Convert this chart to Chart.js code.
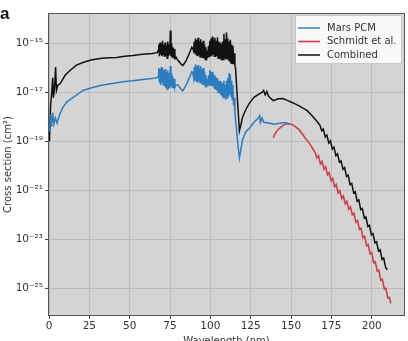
<!DOCTYPE html>
<html>
<head>
<meta charset="utf-8">
<script src="https://cdn.jsdelivr.net/npm/chart.js@4/dist/chart.umd.min.js"></script>
<style>
  body { margin: 0; background: #fff; }
  #wrap { width: 408px; height: 341px; }
</style>
</head>
<body>
<div id="wrap"><canvas id="myChart" width="408" height="341"></canvas></div>
<script>
// wavelength in nm, cross section in cm^2
var pcmWavelength = [0.3, 1.0, 1.6, 2.3, 3.0, 4.0, 5.0, 6.5, 8.7, 11, 15, 21, 26, 31.6, 37, 42, 47, 52, 58, 64, 67,
  67.6, 68.0, 68.4, 68.8, 69.2, 69.6, 70.0, 70.4, 70.8, 71.2, 71.6, 72.0, 72.4, 72.8, 73.2, 73.6, 74.0, 74.4, 74.8, 75.2,
  75.6, 76.0, 76.4, 76.8, 77.2, 77.6, 78.0, 78.4, 80, 82, 83, 85, 87, 88.5,
  89.2, 89.6, 90.0, 90.4, 90.8, 91.2, 91.6, 92.0, 92.4, 92.8, 93.2, 93.6, 94.0, 94.4, 94.8, 95.2, 95.6, 96.0, 96.4, 96.8,
  97.2, 97.6, 98.0, 98.4, 98.8, 99.2, 99.6, 100.0, 100.4, 100.8, 101.2, 101.6, 102.0, 102.4, 102.8, 103.2, 103.6, 104.0,
  104.4, 104.8, 105.2, 105.6, 106.0, 106.4, 106.8, 107.2, 107.6, 108.0, 108.4, 108.8, 109.2, 109.6, 110.0, 110.4, 110.8,
  111.2, 111.6, 112.0, 112.4, 112.8, 113.2, 113.6, 114.0, 114.4, 114.8, 115.2, 115.6, 116.2, 117, 118, 119, 120, 122,
  124.5, 127, 128, 129.5, 130.5, 131, 132, 133, 135, 137, 139, 141, 143, 145, 147, 149];
var pcmCrossSection = [2.5e-19, 1.2e-18, 4e-19, 1.5e-18, 5e-19, 9e-19, 5.5e-19, 1.2e-18, 2.5e-18, 4e-18, 6.3e-18, 1.2e-17, 1.5e-17, 1.9e-17, 2.2e-17, 2.5e-17, 2.8e-17, 3.0e-17, 3.4e-17, 3.7e-17, 4e-17,
  4.5e-17, 1e-16, 2.5e-17, 9e-17, 2e-17, 1.1e-16, 2.5e-17, 1e-16, 2e-17, 8e-17, 1.8e-17, 9e-17, 1.5e-17, 7e-17, 1.3e-17, 8e-17, 1.4e-17, 6e-17, 1.5e-17, 1.2e-16,
  1.8e-17, 6e-17, 1.6e-17, 4.5e-17, 1.5e-17, 3.5e-17, 1.6e-17, 2e-17, 2e-17, 1.3e-17, 1.17e-17, 2e-17, 4e-17, 7e-17,
  6e-17, 4e-17, 1.1e-16, 3e-17, 1.4e-16, 3e-17, 1.2e-16, 2.5e-17, 1.3e-16, 2.8e-17, 1e-16, 2.5e-17, 1.2e-16, 2.5e-17, 9e-17, 2e-17, 1e-16, 2e-17, 7e-17, 1.8e-17,
  5e-17, 1.6e-17, 3.5e-17, 1.8e-17, 5e-17, 2e-17, 8e-17, 2e-17, 7e-17, 1.8e-17, 7e-17, 1.8e-17, 5e-17, 1.5e-17, 5e-17, 1.3e-17, 4e-17, 1.2e-17,
  4e-17, 1e-17, 3e-17, 1e-17, 3e-17, 8e-18, 2.5e-17, 7e-18, 2.5e-17, 6e-18, 3e-17, 6e-18, 2e-17, 5e-18, 3e-17, 6e-18, 4e-17,
  7e-18, 6e-17, 8e-18, 5e-17, 7e-18, 3e-17, 5e-18, 2e-17, 3e-18, 6e-18, 1.5e-18, 8e-19, 3e-19, 8e-20, 2.1e-20, 5e-20, 1.2e-19, 2.5e-19,
  3.6e-19, 6e-19, 7e-19, 8.5e-19, 1.1e-18, 6e-19, 9e-19, 6e-19, 5.8e-19, 5.5e-19, 5e-19, 5.2e-19, 5.5e-19, 5.8e-19, 5.8e-19, 5e-19];

var schmidtWavelength = [139, 140, 141.5, 143, 145, 147, 149, 151, 153, 155, 157, 159, 161.6, 163.5, 165,
  166, 167, 168.2, 169.2, 170.4, 171.4, 172.6, 173.6, 174.8, 175.8, 177, 178, 179.2, 180.2, 181.4, 182.4, 183.6, 184.6,
  185.8, 186.8, 188, 189, 190.2, 191.2, 192.4, 193.4, 194.6, 195.6, 196.8, 197.8, 199, 200, 201.2, 202.2, 203.4, 204.4,
  205.6, 206.6, 207.8, 208.8, 210, 211, 211.8];
var schmidtCrossSection = [1.4e-19, 2e-19, 2.8e-19, 3.5e-19, 4.5e-19, 5.1e-19, 5.2e-19, 4.8e-19, 3.8e-19, 3e-19, 2e-19, 1.3e-19, 7.9e-20, 5e-20, 3.5e-20,
  2.1e-20, 2.6e-20, 1.2e-20, 1.5e-20, 7.2e-21, 9.1e-21, 4.3e-21, 5.2e-21, 2.5e-21, 3e-21, 1.4e-21, 1.7e-21, 7.8e-22, 9.5e-22, 4.6e-22, 5.8e-22, 2.8e-22, 3.5e-22,
  1.7e-22, 2.1e-22, 1e-22, 1.15e-22, 5e-23, 5.8e-23, 2.5e-23, 2.8e-23, 1.15e-23, 1.3e-23, 5.4e-24, 6e-24, 2.5e-24, 2.8e-24, 1.1e-24, 1.2e-24, 5e-25, 5.4e-25,
  2.1e-25, 2.3e-25, 9.3e-26, 9.8e-26, 3.9e-26, 4.2e-26, 2.4e-26];

var combinedWavelength = [0.3, 1.0, 1.8, 2.3, 2.7, 3.4, 4.1, 4.6, 5.5, 7, 10, 13, 17, 21, 26, 31.6, 37, 42, 47, 52, 58, 64, 67,
  67.6, 68.0, 68.4, 68.8, 69.2, 69.6, 70.0, 70.4, 70.8, 71.2, 71.6, 72.0, 72.4, 72.8, 73.2, 73.6, 74.0, 74.4, 74.8, 75.2,
  75.6, 76.0, 76.4, 76.8, 77.2, 77.6, 78.0, 78.4, 80, 82, 83, 85, 87, 88.5,
  89.2, 89.6, 90.0, 90.4, 90.8, 91.2, 91.6, 92.0, 92.4, 92.8, 93.2, 93.6, 94.0, 94.4, 94.8, 95.2, 95.6, 96.0, 96.4, 96.8,
  97.2, 97.6, 98.0, 98.4, 98.8, 99.2, 99.6, 100.0, 100.4, 100.8, 101.2, 101.6, 102.0, 102.4, 102.8, 103.2, 103.6, 104.0,
  104.4, 104.8, 105.2, 105.6, 106.0, 106.4, 106.8, 107.2, 107.6, 108.0, 108.4, 108.8, 109.2, 109.6, 110.0, 110.4, 110.8,
  111.2, 111.6, 112.0, 112.4, 112.8, 113.2, 113.6, 114.0, 114.4, 114.8, 115.2, 115.6, 116.5, 117.3,
  118, 119, 120, 122, 124, 127, 130.6, 132, 133, 134, 135, 136, 137, 139, 142, 145, 148, 151, 155, 160, 162, 164, 166, 168,
  169, 170, 171.2, 172.2, 173.4, 174.4, 175.6, 176.6, 177.8, 178.8, 180, 181, 182.2, 183.2, 184.4, 185.4, 186.6, 187.6,
  188.8, 189.8, 191, 192, 193.2, 194.2, 195.4, 196.4, 197.6, 198.6, 199.8, 200.8, 202, 203, 204.2, 205.2, 206.4, 207.4, 208.6, 209.6];
var combinedCrossSection = [1e-19, 3e-18, 1.2e-17, 4e-17, 6e-18, 1.5e-17, 1.1e-16, 1.2e-17, 2e-17, 2.3e-17, 5e-17, 7.9e-17, 1.3e-16, 1.66e-16, 2.1e-16, 2.45e-16, 2.6e-16, 2.7e-16, 3e-16, 3.2e-16, 3.6e-16, 3.9e-16, 4.2e-16,
  5e-16, 9e-16, 3e-16, 1.1e-15, 3.5e-16, 1e-15, 3e-16, 1.3e-15, 3.5e-16, 9e-16, 2.8e-16, 1.1e-15, 3e-16, 8e-16, 2.5e-16, 1.2e-15, 3e-16, 9e-16, 3.5e-16, 3.4e-15,
  3e-16, 1e-15, 2.8e-16, 7e-16, 2.5e-16, 6e-16, 2.2e-16, 3e-16, 2e-16, 1.4e-16, 1.26e-16, 2e-16, 4e-16, 7e-16,
  6e-16, 5e-16, 1.2e-15, 4e-16, 1.6e-15, 3.5e-16, 1.4e-15, 3e-16, 1.7e-15, 3.2e-16, 1.2e-15, 2.8e-16, 1.5e-15, 3e-16, 1.1e-15, 2.5e-16, 1.3e-15, 2.5e-16, 9e-16, 2.2e-16,
  7e-16, 2e-16, 5e-16, 2.5e-16, 8e-16, 3e-16, 1.3e-15, 3e-16, 1.6e-15, 3e-16, 1.9e-15, 3.5e-16, 1.4e-15, 3e-16, 1.7e-15, 2.8e-16, 1.3e-15, 3e-16,
  1.8e-15, 2.5e-16, 1.2e-15, 2.5e-16, 1.1e-15, 2.2e-16, 9e-16, 2e-16, 1.2e-15, 2.2e-16, 2.5e-15, 2.5e-16, 1.5e-15, 2.2e-16, 2.8e-15, 2.5e-16, 1.6e-15,
  2e-16, 1.2e-15, 1.8e-16, 1.4e-15, 1.6e-16, 9e-16, 1.5e-16, 8e-16, 1.5e-16, 4e-16, 1.2e-16, 1e-16, 1e-17, 1.5e-18,
  2.7e-19, 5e-19, 1e-18, 2e-18, 3.5e-18, 6.3e-18, 8.9e-18, 1e-17, 1.2e-17, 8e-18, 1.1e-17, 7e-18, 6e-18, 4.6e-18, 5.5e-18, 5.6e-18, 4.6e-18, 3.8e-18, 2.8e-18, 1.8e-18, 1.3e-18, 9.5e-19, 6.6e-19, 4.4e-19,
  2.7e-19, 3.2e-19, 1.5e-19, 1.8e-19, 8.5e-20, 1.05e-19, 4.8e-20, 5.8e-20, 2.6e-20, 3.1e-20, 1.4e-20, 1.6e-20, 7.2e-21, 8.5e-21, 3.7e-21, 4.2e-21, 1.7e-21, 1.9e-21,
  7.9e-22, 8.7e-22, 3.5e-22, 4e-22, 1.6e-22, 1.8e-22, 7.4e-23, 8.1e-23, 3.3e-23, 3.7e-23, 1.5e-23, 1.7e-23, 7.1e-24, 7.9e-24, 3.3e-24, 3.7e-24, 1.5e-24, 1.7e-24, 7.2e-25, 5.6e-25];

var xTickValues = [0, 25, 50, 75, 100, 125, 150, 175, 200];
var yTickValues = [1e-15, 1e-17, 1e-19, 1e-21, 1e-23, 1e-25];
var yTickLabels = ['10⁻¹⁵', '10⁻¹⁷', '10⁻¹⁹', '10⁻²¹', '10⁻²³', '10⁻²⁵'];

function pairs(xs, ys) {
    return xs.map(function (x, i) { return { x: x, y: ys[i] }; });
}

var textColor = '#333';
var font = 'DejaVu Sans';

// gray plot face, frame, legend box and panel letter
var decor = {
    id: 'decor',
    beforeDraw: function (chart) {
        var ctx = chart.ctx, a = chart.chartArea;
        ctx.save();
        ctx.fillStyle = '#d4d4d4';
        ctx.fillRect(a.left, a.top, a.right - a.left, a.bottom - a.top);
        ctx.restore();
    },
    afterDraw: function (chart) {
        var ctx = chart.ctx, a = chart.chartArea;
        ctx.save();
        ctx.strokeStyle = '#555';
        ctx.lineWidth = 1;
        ctx.strokeRect(a.left - 0.5, a.top - 0.5, a.right - a.left + 1, a.bottom - a.top + 1);

        // legend
        var bx = a.right - 109, by = a.top + 1, bw = 107, bh = 49;
        ctx.fillStyle = 'rgba(255,255,255,0.85)';
        ctx.strokeStyle = '#c8c8c8';
        ctx.fillRect(bx, by, bw, bh);
        ctx.strokeRect(bx + 0.5, by + 0.5, bw - 1, bh - 1);
        ctx.font = '10px ' + font;
        ctx.textBaseline = 'middle';
        chart.data.datasets.forEach(function (ds, i) {
            var y = by + 13 + i * 13.5;
            ctx.strokeStyle = ds.borderColor;
            ctx.lineWidth = ds.borderWidth;
            ctx.beginPath();
            ctx.moveTo(bx + 3, y);
            ctx.lineTo(bx + 25, y);
            ctx.stroke();
            ctx.fillStyle = textColor;
            ctx.fillText(ds.label, bx + 32, y);
        });

        ctx.fillStyle = '#111';
        ctx.font = 'bold 17px Liberation Sans';
        ctx.textBaseline = 'alphabetic';
        ctx.fillText('a', 0, 19);
        ctx.restore();
    }
};

var ctx = document.getElementById('myChart').getContext('2d');
var myChart = new Chart(ctx, {
    type: 'line',
    data: {
        datasets: [{
            label: 'Mars PCM',
            data: pairs(pcmWavelength, pcmCrossSection),
            borderColor: '#2c7dbf',
            borderWidth: 1.5
        }, {
            label: 'Schmidt et al.',
            data: pairs(schmidtWavelength, schmidtCrossSection),
            borderColor: '#cf3d4e',
            borderWidth: 1.6
        }, {
            label: 'Combined',
            data: pairs(combinedWavelength, combinedCrossSection),
            borderColor: '#111',
            borderWidth: 1.5
        }]
    },
    options: {
        responsive: false,
        devicePixelRatio: 1,
        animation: false,
        layout: { padding: { top: 14, right: 4, left: 0, bottom: 0 } },
        elements: { point: { radius: 0 }, line: { tension: 0, fill: false } },
        plugins: { legend: { display: false }, tooltip: { enabled: false } },
        scales: {
            x: {
                type: 'linear',
                min: 0,
                max: 220,
                afterBuildTicks: function (s) { s.ticks = xTickValues.map(function (v) { return { value: v }; }); },
                afterFit: function (s) { s.height = 26; },
                grid: { color: '#bdbdbd', tickColor: '#444', tickLength: 4 },
                border: { display: false },
                ticks: { color: textColor, font: { family: font, size: 10.5 }, padding: 1, maxRotation: 0, autoSkip: false },
                title: { display: true, text: 'Wavelength (nm)', color: textColor, font: { family: font, size: 10 }, padding: { top: 0, bottom: -6 } }
            },
            y: {
                type: 'logarithmic',
                min: 8e-27,
                max: 1.6e-14,
                afterBuildTicks: function (s) { s.ticks = yTickValues.map(function (v) { return { value: v }; }); },
                afterFit: function (s) { s.width = 49; },
                grid: { color: '#bdbdbd', tickColor: '#444', tickLength: 4 },
                border: { display: false },
                ticks: {
                    color: textColor, font: { family: font, size: 10.5 }, padding: 2, autoSkip: false,
                    callback: function (v, i) { return yTickLabels[i]; }
                },
                title: { display: true, text: 'Cross section (cm²)', color: textColor, font: { family: font, size: 10 }, padding: { top: 2, bottom: 0 } }
            }
        }
    },
    plugins: [decor]
});
</script>
</body>
</html>
